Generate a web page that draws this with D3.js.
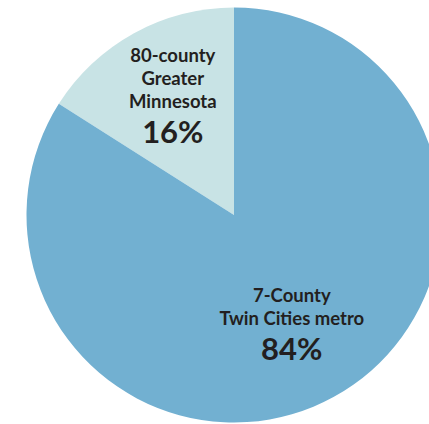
<!DOCTYPE html>
<html>
<head>
<meta charset="utf-8">
<script src="https://cdn.jsdelivr.net/npm/d3@7"></script>
<style>
  html, body { margin: 0; padding: 0; background: #fff; }
  svg { display: block; }
  text { font-family: Lato, "Open Sans", sans-serif; font-weight: 700; fill: #231f20; }
</style>
</head>
<body>
<svg id="chart" width="429" height="424"></svg>
<script>
// Share of residents by region
const regions = ["80-county Greater Minnesota", "7-County Twin Cities metro"];
const shares = [16, 84];
const labelLines = [["80-county", "Greater", "Minnesota"], ["7-County", "Twin Cities metro"]];
const colors = ["#c8e3e5", "#72b0d1"];

const cx = 234, cy = 215, radius = 207.5;

const svg = d3.select("#chart");
const g = svg.append("g").attr("transform", `translate(${cx},${cy})`);

const data = regions.map((r, i) => ({ region: r, value: shares[i], lines: labelLines[i], color: colors[i] }));

// Small slice sits counter-clockwise from 12 o'clock, large slice runs clockwise
const smallAngle = shares[0] / d3.sum(shares) * 2 * Math.PI;
const pie = d3.pie().value(d => d.value).sort(null)
  .startAngle(-smallAngle).endAngle(2 * Math.PI - smallAngle);

const arc = d3.arc().innerRadius(0).outerRadius(radius);
const arcs = pie(data);

g.selectAll("path.slice")
  .data(arcs)
  .join("path")
  .attr("class", "slice")
  .attr("d", arc)
  .attr("fill", d => d.data.color);

// Label anchor radius and first-baseline offset per slice
const labelRadius = [127, 120];
const firstBaseline = [-42, -18];
const lineGap = 23;
const pctGap = 35;

arcs.forEach((d, i) => {
  const mid = (d.startAngle + d.endAngle) / 2;
  const lx = Math.sin(mid) * labelRadius[i];
  const ly = -Math.cos(mid) * labelRadius[i];
  const lines = d.data.lines;
  const t = g.append("g").attr("transform", `translate(${lx},${ly + firstBaseline[i]})`);
  lines.forEach((ln, j) => {
    t.append("text")
      .attr("x", 0).attr("y", j * lineGap)
      .attr("text-anchor", "middle")
      .attr("font-size", 18.5)
      .text(ln);
  });
  t.append("text")
    .attr("x", 0).attr("y", (lines.length - 1) * lineGap + pctGap)
    .attr("text-anchor", "middle")
    .attr("font-size", 31)
    .text(d3.format(".0f")(d.data.value) + "%");
});
</script>
</body>
</html>
